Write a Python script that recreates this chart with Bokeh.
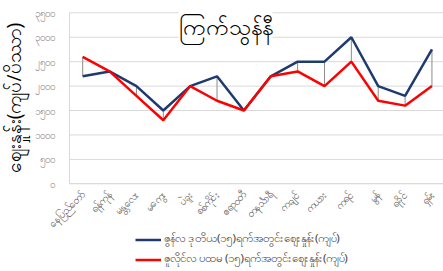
import math
from bokeh.plotting import figure
from bokeh.models import (FixedTicker, Label, Legend, LegendItem, ColumnDataSource, Range1d)
from bokeh.embed import file_html
from bokeh.resources import INLINE

# ---- data ----
regions = ["နေပြည်တော်", "ရန်ကုန်", "မန္တလေး", "မကွေး", "ပဲခူး", "စစ်ကိုင်း",
           "ဧရာဝတီ", "တနင်္သာရီ", "ကချင်", "ကယား", "ကရင်", "မွန်", "ရခိုင်", "ရှမ်း"]
june_2nd = [2200, 2300, 2000, 1500, 2000, 2200, 1500, 2200, 2500, 2500, 3000, 2000, 1800, 2750]
july_1st = [2600, 2300, 1800, 1300, 2000, 1700, 1500, 2200, 2300, 2000, 2500, 1700, 1600, 2000]
y_ticks = [0, 500, 1000, 1500, 2000, 2500, 3000, 3500]
y_tick_labels = ["၀", "၅၀၀", "၁၀၀၀", "၁၅၀၀", "၂၀၀၀", "၂၅၀၀", "၃၀၀၀", "၃၅၀၀"]
title_text = "ကြက်သွန်နီ"
y_title = "ဈေးနှုန်း(ကျပ်/ပိဿာ)"
series_names = ["ဇွန်လ ဒုတိယ(၁၅)ရက်အတွင်းဈေးနှုန်း(ကျပ်)",
                "ဇူလိုင်လ ပထမ (၁၅)ရက်အတွင်းဈေးနှုန်း(ကျပ်)"]

FONT = "Noto Sans"

n = len(regions)
xpos = [i + 0.5 for i in range(n)]   # category centres

# the frame fills the whole canvas; axes are pinned inside it
p = figure(width=443, height=271,
           x_range=Range1d(-2.56, 13.93), y_range=Range1d(-1795, 3752),
           output_backend="svg", toolbar_location=None,
           min_border_left=0, min_border_right=0, min_border_top=0,
           min_border_bottom=0)
p.outline_line_color = None
p.xgrid.grid_line_color = None
p.ygrid.grid_line_color = None

# horizontal gridlines over the category area only
p.segment(x0=[0] * len(y_ticks), x1=[n] * len(y_ticks), y0=y_ticks, y1=y_ticks,
          line_color="#d9d9d9", line_width=1)

src = ColumnDataSource(dict(x=xpos, a=june_2nd, b=july_1st))

# high-low drop lines
p.segment(x0="x", y0="a", x1="x", y1="b", source=src, line_color="#8c8c8c", line_width=1)

r1 = p.line("x", "a", source=src, line_color="#1f3a6e", line_width=2.5)
r2 = p.line("x", "b", source=src, line_color="#ff0000", line_width=2.5)

# y axis (pinned at left edge of the first category)
p.yaxis.fixed_location = 0
p.yaxis.bounds = (0, 3500)
p.yaxis.ticker = FixedTicker(ticks=y_ticks)
p.yaxis.major_label_overrides = {t: l for t, l in zip(y_ticks, y_tick_labels)}
p.yaxis.major_label_text_font_size = "10px"
p.yaxis.major_label_text_color = "#7f7f7f"
p.yaxis.major_label_text_font = FONT
p.yaxis.major_label_standoff = 8
p.yaxis.major_tick_line_color = None
p.yaxis.minor_tick_line_color = None
p.yaxis.axis_line_color = "#d9d9d9"
p.yaxis.axis_label = y_title
p.yaxis.axis_label_text_font_size = "19px"
p.yaxis.axis_label_text_font_style = "normal"
p.yaxis.axis_label_text_color = "#000000"
p.yaxis.axis_label_text_font = FONT
p.yaxis.axis_label_standoff = 6

# x axis (pinned at zero)
p.xaxis.fixed_location = 0
p.xaxis.bounds = (0, n)
p.xaxis.ticker = FixedTicker(ticks=xpos)
p.xaxis.major_label_overrides = {x: r for x, r in zip(xpos, regions)}
p.xaxis.major_label_orientation = math.pi / 4
p.xaxis.major_label_text_font_size = "10.5px"
p.xaxis.major_label_text_color = "#595959"
p.xaxis.major_label_text_font = FONT
p.xaxis.major_tick_line_color = None
p.xaxis.minor_tick_line_color = None
p.xaxis.axis_line_color = "#d9d9d9"
p.xaxis.major_label_standoff = 3

# title inside chart area with white background
p.add_layout(Label(x=225, y=246, x_units="screen", y_units="screen", text=title_text,
                   text_font=FONT, text_font_size="23px", text_align="center",
                   text_baseline="middle", background_fill_color="white",
                   text_color="#000000"))

legend = Legend(items=[LegendItem(label=series_names[0], renderers=[r1]),
                       LegendItem(label=series_names[1], renderers=[r2])],
                location=(135, 3), orientation="vertical",
                label_text_font_size="11.5px", label_text_font=FONT,
                glyph_width=26, glyph_height=17, label_height=17,
                spacing=2, padding=0, margin=0, border_line_color=None,
                background_fill_alpha=0, label_standoff=3)
p.add_layout(legend, "center")

open("out.html", "w").write(file_html(p, INLINE))
